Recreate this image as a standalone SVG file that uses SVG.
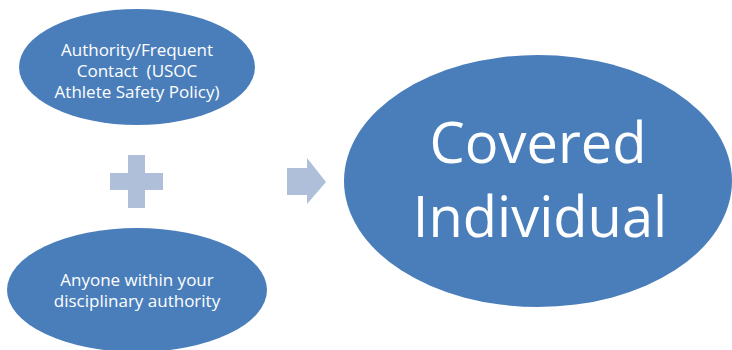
<svg xmlns="http://www.w3.org/2000/svg" width="732" height="350" viewBox="0 0 732 350">
<style>
.node{fill:#4A7EBB;}
.sym{fill:#AFBED9;}
.t{font-family:"Open Sans","Liberation Sans",sans-serif;fill:#FFFFFF;text-anchor:middle;white-space:pre;}
.s{font-size:17px;}
.b{font-size:56px;}
</style>
<rect width="732" height="350" fill="#FFFFFF"/>
<g id="node-authority">
<ellipse class="node" cx="137" cy="67" rx="118" ry="58"/>
<text class="t s" x="137" y="56">Authority/Frequent</text>
<text class="t s" x="137" y="77" xml:space="preserve">Contact  (USOC</text>
<text class="t s" x="137" y="98">Athlete Safety Policy)</text>
</g>
<g id="node-anyone">
<ellipse class="node" cx="137" cy="290" rx="130" ry="62"/>
<text class="t s" x="137" y="286">Anyone within your</text>
<text class="t s" x="137" y="307">disciplinary authority</text>
</g>
<g id="node-covered">
<ellipse class="node" cx="538" cy="181" rx="194" ry="126"/>
<text class="t b" x="538" y="163">Covered</text>
<text class="t b" x="540" y="237">Individual</text>
</g>
<g id="connectors">
<path class="sym" d="M128 155H145V173H163V190H145V208H128V190H110V173H128Z"/>
<path class="sym" d="M287 168H307V158L326 182L307 204V195H287Z"/>
</g>
</svg>
